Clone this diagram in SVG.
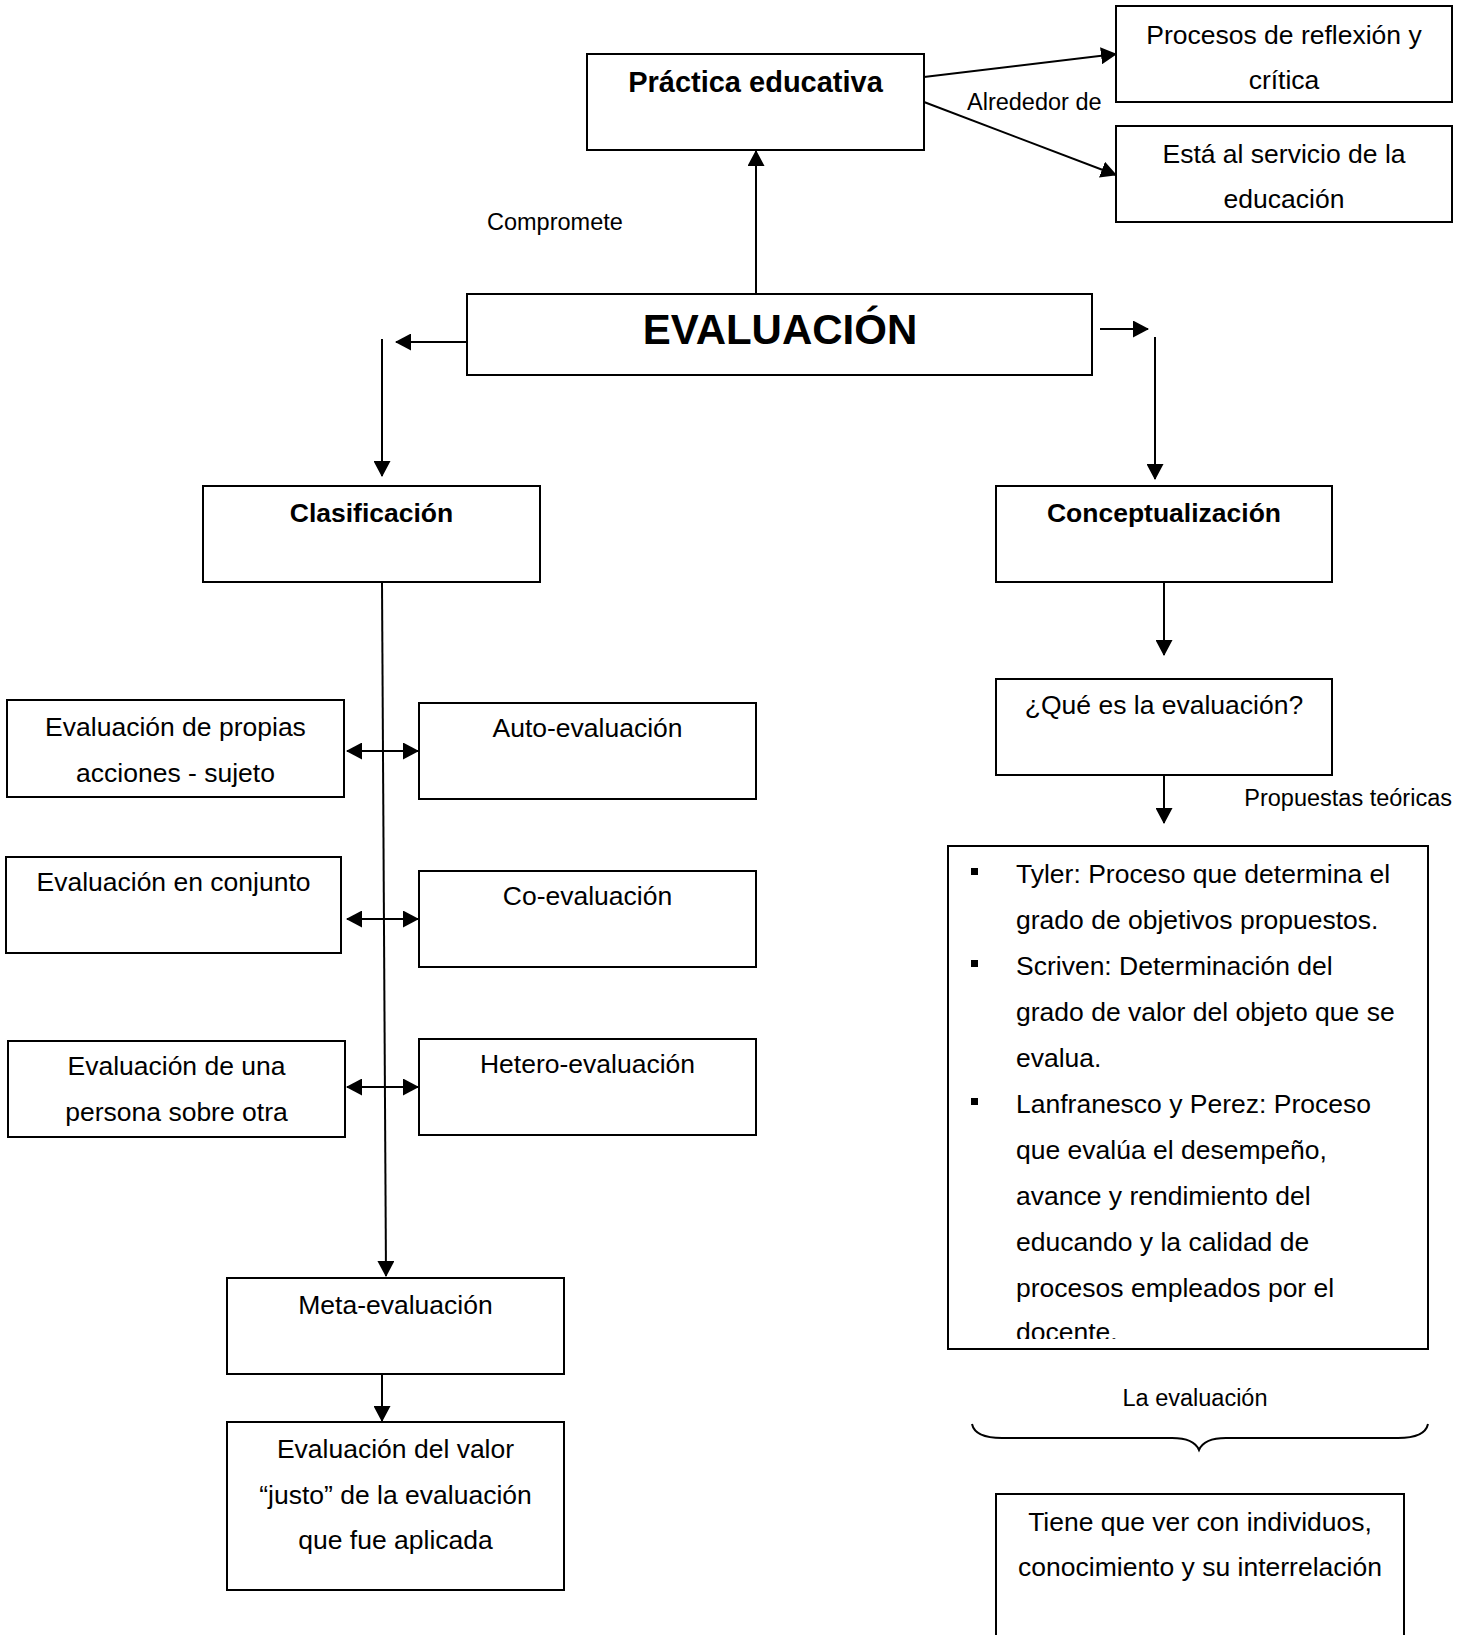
<svg xmlns="http://www.w3.org/2000/svg" width="1470" height="1635" viewBox="0 0 1470 1635">
  <style>
    .box { fill: #fff; stroke: #000; stroke-width: 2; }
    .t { font-family: "Liberation Sans", Arial, sans-serif; font-size: 26.5px; fill: #000; }
    .c { text-anchor: middle; }
    .b { font-weight: bold; }
    .small { font-size: 23.5px; }
    .ln { fill: none; stroke: #000; stroke-width: 2; }
    .arr { marker-end: url(#head); }
    .dbl { marker-start: url(#head); marker-end: url(#head); }
  </style>
  <defs>
    <marker id="head" markerUnits="userSpaceOnUse" markerWidth="16" markerHeight="17" refX="15" refY="8.5" orient="auto-start-reverse">
      <path d="M0,0 L16,8.5 L0,17 z" fill="#000"/>
    </marker>
    <clipPath id="tylerClip">
      <rect x="948" y="846" width="480" height="493"/>
    </clipPath>
  </defs>
  <rect width="1470" height="1635" fill="#fff"/>

  <!-- connectors -->
  <g id="connectors">
    <line class="ln arr" x1="924" y1="77" x2="1116" y2="54"/>
    <line class="ln arr" x1="924" y1="102" x2="1116" y2="175"/>
    <line class="ln arr" x1="756" y1="294" x2="756" y2="151"/>
    <line class="ln arr" x1="467" y1="342" x2="396" y2="342"/>
    <line class="ln arr" x1="382" y1="339" x2="382" y2="476"/>
    <line class="ln arr" x1="1100" y1="329" x2="1148" y2="329"/>
    <line class="ln arr" x1="1155" y1="337" x2="1155" y2="479"/>
    <line class="ln arr" x1="1164" y1="582" x2="1164" y2="655"/>
    <line class="ln arr" x1="1164" y1="775" x2="1164" y2="823"/>
    <line class="ln arr" x1="382" y1="582" x2="386" y2="1276"/>
    <line class="ln arr" x1="382" y1="1374" x2="382" y2="1421"/>
    <line class="ln dbl" x1="347" y1="751" x2="418" y2="751"/>
    <line class="ln dbl" x1="347" y1="919" x2="418" y2="919"/>
    <line class="ln dbl" x1="347" y1="1087" x2="418" y2="1087"/>
  </g>

  <!-- edge labels and the brace over the last box -->
  <g id="labels">
    <text class="t small" x="487" y="230">Compromete</text>
    <text class="t small" x="967" y="110">Alrededor de</text>
    <text class="t small" x="1452" y="806" text-anchor="end">Propuestas teóricas</text>
    <text class="t small c" x="1195" y="1406">La evaluación</text>
    <path class="ln" d="M972,1424 Q975,1438 1002,1438 L1172,1438 Q1194,1438 1199,1450 Q1204,1438 1226,1438 L1398,1438 Q1425,1438 1428,1424"/>
  </g>

  <g id="practica">
    <rect class="box" x="587" y="54" width="337" height="96"/>
    <text class="t b c" x="755.5" y="92" style="font-size:29px">Práctica educativa</text>
  </g>
  <g id="procesos">
    <rect class="box" x="1116" y="6" width="336" height="96"/>
    <text class="t c" x="1284" y="44">Procesos de reflexión y</text>
    <text class="t c" x="1284" y="89">crítica</text>
  </g>
  <g id="servicio">
    <rect class="box" x="1116" y="126" width="336" height="96"/>
    <text class="t c" x="1284" y="163">Está al servicio de la</text>
    <text class="t c" x="1284" y="208">educación</text>
  </g>
  <g id="evaluacion">
    <rect class="box" x="467" y="294" width="625" height="81"/>
    <text class="t b c" x="780" y="344" style="font-size:42px">EVALUACIÓN</text>
  </g>
  <g id="clasificacion">
    <rect class="box" x="203" y="486" width="337" height="96"/>
    <text class="t b c" x="371.5" y="522">Clasificación</text>
  </g>
  <g id="conceptualizacion">
    <rect class="box" x="996" y="486" width="336" height="96"/>
    <text class="t b c" x="1164" y="522">Conceptualización</text>
  </g>
  <g id="propias">
    <rect class="box" x="7" y="700" width="337" height="97"/>
    <text class="t c" x="175.5" y="736">Evaluación de propias</text>
    <text class="t c" x="175.5" y="782">acciones - sujeto</text>
  </g>
  <g id="auto">
    <rect class="box" x="419" y="703" width="337" height="96"/>
    <text class="t c" x="587.5" y="737">Auto-evaluación</text>
  </g>
  <g id="conjunto">
    <rect class="box" x="6" y="857" width="335" height="96"/>
    <text class="t c" x="173.5" y="891">Evaluación en conjunto</text>
  </g>
  <g id="co">
    <rect class="box" x="419" y="871" width="337" height="96"/>
    <text class="t c" x="587.5" y="905">Co-evaluación</text>
  </g>
  <g id="una-persona">
    <rect class="box" x="8" y="1041" width="337" height="96"/>
    <text class="t c" x="176.5" y="1075">Evaluación de una</text>
    <text class="t c" x="176.5" y="1121">persona sobre otra</text>
  </g>
  <g id="hetero">
    <rect class="box" x="419" y="1039" width="337" height="96"/>
    <text class="t c" x="587.5" y="1073">Hetero-evaluación</text>
  </g>
  <g id="meta">
    <rect class="box" x="227" y="1278" width="337" height="96"/>
    <text class="t c" x="395.5" y="1314">Meta-evaluación</text>
  </g>
  <g id="valor-justo">
    <rect class="box" x="227" y="1422" width="337" height="168"/>
    <text class="t c" x="395.5" y="1458">Evaluación del valor</text>
    <text class="t c" x="395.5" y="1504">“justo” de la evaluación</text>
    <text class="t c" x="395.5" y="1549">que fue aplicada</text>
  </g>
  <g id="que-es">
    <rect class="box" x="996" y="679" width="336" height="96"/>
    <text class="t c" x="1164" y="714">¿Qué es la evaluación?</text>
  </g>
  <g id="propuestas">
    <rect class="box" x="948" y="846" width="480" height="503"/>
    <g fill="#000">
      <rect x="971" y="868" width="7" height="7"/>
      <rect x="971" y="960" width="7" height="7"/>
      <rect x="971" y="1098" width="7" height="7"/>
    </g>
    <g clip-path="url(#tylerClip)">
      <text class="t" x="1016" y="883">Tyler: Proceso que determina el</text>
      <text class="t" x="1016" y="929">grado de objetivos propuestos.</text>
      <text class="t" x="1016" y="975">Scriven: Determinación del</text>
      <text class="t" x="1016" y="1021">grado de valor del objeto que se</text>
      <text class="t" x="1016" y="1067">evalua.</text>
      <text class="t" x="1016" y="1113">Lanfranesco y Perez: Proceso</text>
      <text class="t" x="1016" y="1159">que evalúa el desempeño,</text>
      <text class="t" x="1016" y="1205">avance y rendimiento del</text>
      <text class="t" x="1016" y="1251">educando y la calidad de</text>
      <text class="t" x="1016" y="1297">procesos empleados por el</text>
      <text class="t" x="1016" y="1341">docente.</text>
    </g>
  </g>
  <g id="individuos">
    <rect class="box" x="996" y="1494" width="408" height="160"/>
    <text class="t c" x="1200" y="1531">Tiene que ver con individuos,</text>
    <text class="t c" x="1200" y="1576">conocimiento y su interrelación</text>
  </g>
</svg>
